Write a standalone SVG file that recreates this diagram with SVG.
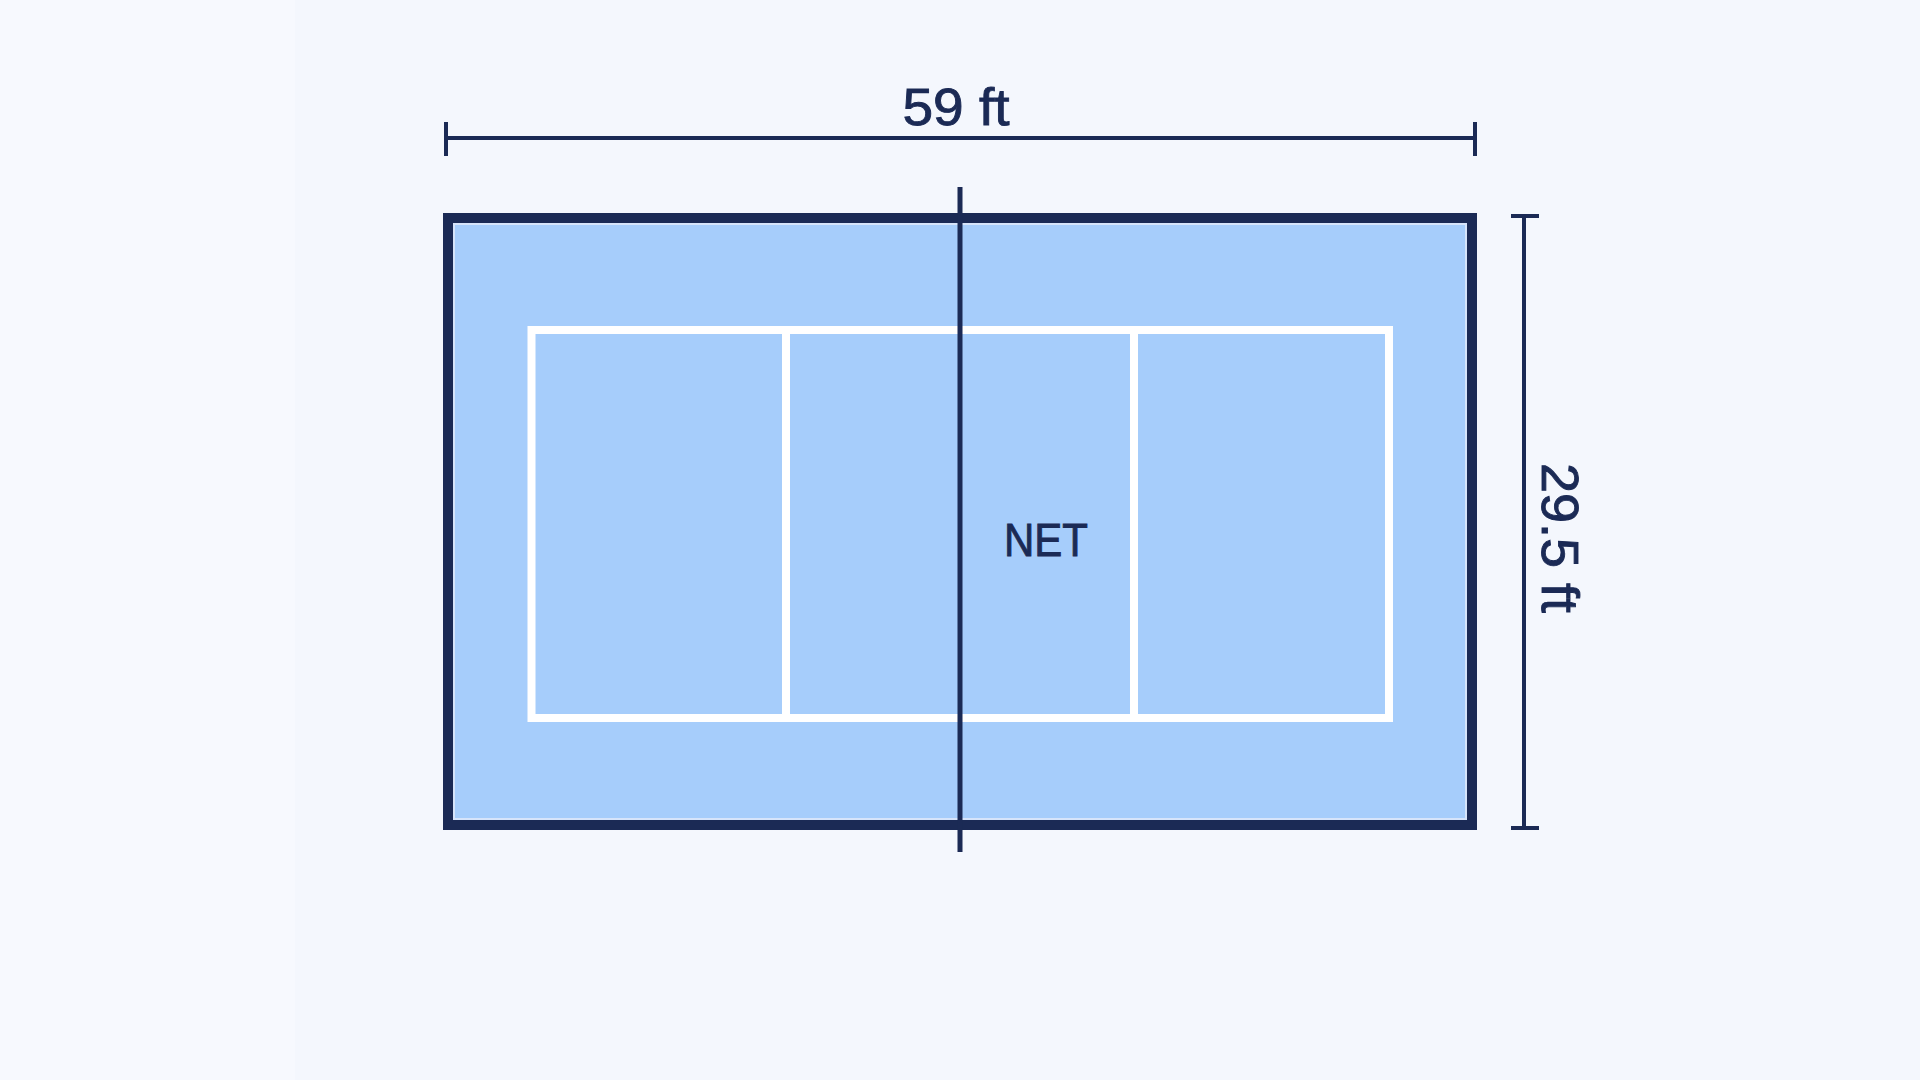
<svg xmlns="http://www.w3.org/2000/svg" width="1920" height="1080" viewBox="0 0 1920 1080">
  <style>
    .dim { stroke: #1b2a55; stroke-width: 4; fill: none; }
    .lbl { font-family: "Liberation Sans", Arial, sans-serif; fill: #1b2a55; stroke: #1b2a55; stroke-width: 0.9; }
    .white { stroke: #ffffff; stroke-width: 8; fill: none; }
  </style>
  <rect x="0" y="0" width="1920" height="1080" fill="#f4f7fd"/>
  <rect x="0" y="0" width="295" height="1080" fill="#f7f9fe"/>

  <g id="court">
    <rect x="448" y="218" width="1024" height="607" fill="#a6cdfb" stroke="#1b2a55" stroke-width="10"/>
    <rect x="454" y="224" width="1012" height="595" fill="none" stroke="#d6e4fa" stroke-width="2"/>
  </g>

  <g id="inner-lines">
    <rect class="white" x="531.5" y="330" width="857.5" height="388"/>
    <line class="white" x1="786" y1="330" x2="786" y2="718"/>
    <line class="white" x1="1134" y1="330" x2="1134" y2="718"/>
  </g>

  <g id="net">
    <line x1="960" y1="187" x2="960" y2="852" stroke="#1b2a55" stroke-width="5"/>
    <text class="lbl" x="1046" y="556" font-size="47" text-anchor="middle" textLength="84" lengthAdjust="spacingAndGlyphs">NET</text>
  </g>

  <g id="connectors">
    <g id="dim-width">
      <line class="dim" x1="444" y1="138" x2="1476" y2="138"/>
      <line class="dim" x1="446" y1="122" x2="446" y2="156"/>
      <line class="dim" x1="1475" y1="122" x2="1475" y2="156"/>
    </g>
    <g id="dim-height">
      <line class="dim" x1="1524" y1="216" x2="1524" y2="828"/>
      <line class="dim" x1="1511" y1="216" x2="1539" y2="216"/>
      <line class="dim" x1="1511" y1="828" x2="1539" y2="828"/>
    </g>
  </g>

  <g id="label-width">
    <text class="lbl" x="956" y="125" font-size="52" text-anchor="middle" textLength="107" lengthAdjust="spacingAndGlyphs">59 ft</text>
  </g>
  <g id="label-height">
    <text class="lbl" x="1542" y="538" font-size="51" text-anchor="middle" textLength="150" lengthAdjust="spacingAndGlyphs" transform="rotate(90 1542 538)">29.5 ft</text>
  </g>
</svg>
